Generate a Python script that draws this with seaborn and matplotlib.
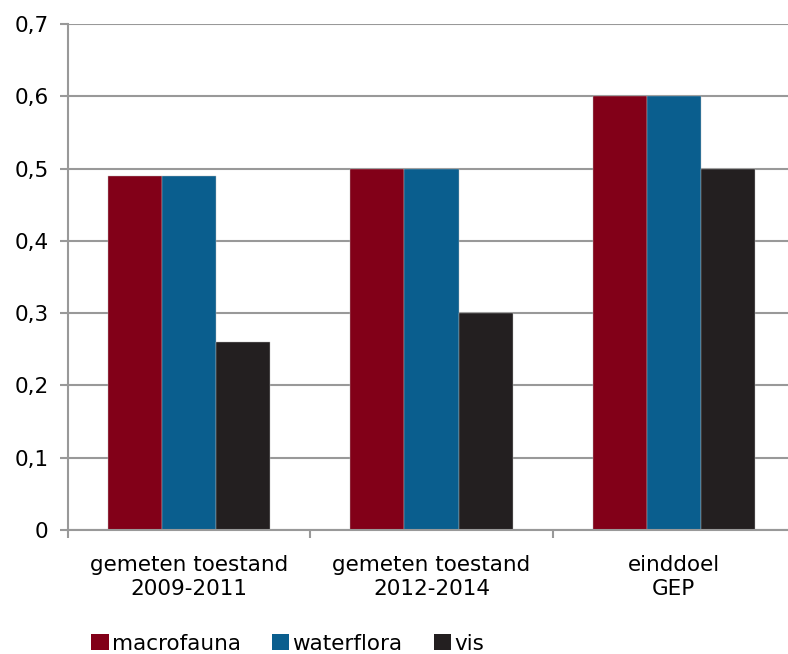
import matplotlib
matplotlib.use("Agg")
import matplotlib.pyplot as plt
import seaborn as sns
import pandas as pd
from matplotlib.ticker import FuncFormatter
from matplotlib.patches import Patch

categories = ["gemeten toestand\n2009-2011", "gemeten toestand\n2012-2014", "einddoel\nGEP"]
series = ["macrofauna", "waterflora", "vis"]
macrofauna = [0.49, 0.50, 0.60]
waterflora = [0.49, 0.50, 0.60]
vis = [0.26, 0.30, 0.50]
colors = ["#820018", "#0a5e8e", "#231f20"]

rows = []
for name, vals in zip(series, [macrofauna, waterflora, vis]):
    for c, v in zip(categories, vals):
        rows.append({"cat": c, "series": name, "value": v})
df = pd.DataFrame(rows)

sns.set_style("white")
plt.rcParams['font.family'] = ['DejaVu Sans']
plt.rcParams['text.color'] = 'black'
plt.rcParams['xtick.labelcolor'] = 'black'
plt.rcParams['ytick.labelcolor'] = 'black'
fs = 15.5

fig = plt.figure(figsize=(7.88, 6.54), dpi=100)
ax = fig.add_axes([68/788, 124/654, (795-68)/788, 506/654])

sns.barplot(data=df, x="cat", y="value", hue="series", order=categories,
            hue_order=series, palette=colors, width=0.67, ax=ax,
            saturation=1, edgecolor="#bbbbbb", linewidth=0.3, legend=False)

ax.set_ylim(0, 0.7)
ax.set_xlim(-0.5, 2.5)
ax.set_yticks([i / 10 for i in range(8)])
ax.yaxis.set_major_formatter(FuncFormatter(lambda v, p: "0" if abs(v) < 1e-9 else f"{v:.1f}".replace(".", ",")))
ax.yaxis.grid(True, color="#999999", linewidth=1.5)
ax.set_axisbelow(True)
ax.set_xlabel("")
ax.set_ylabel("")

for s in ["top", "right"]:
    ax.spines[s].set_visible(False)
for s in ["left", "bottom"]:
    ax.spines[s].set_color("#999999")
    ax.spines[s].set_linewidth(1.5)

ax.tick_params(axis="y", length=6, width=1.5, color="#999999", labelsize=fs, pad=8, left=True, labelcolor="black")
ax.set_xticks([0, 1, 2])
ax.set_xticklabels(categories, fontsize=fs, linespacing=1.25)
ax.tick_params(axis="x", which="major", length=0, pad=18, labelcolor="black")
ax.set_xticks([-0.5, 0.5, 1.5, 2.5], minor=True)
ax.tick_params(axis="x", which="minor", length=6, width=1.5, color="#999999", bottom=True)

handles = [Patch(facecolor=c, edgecolor="none") for c in colors]
fig.legend(handles, series, loc="lower left", bbox_to_anchor=(72/788, -19/654), ncol=3,
           frameon=False, fontsize=fs, handlelength=0.8, handleheight=0.8,
           handletextpad=0.15, columnspacing=1.45, labelcolor="black")

fig.savefig("out.png", dpi=100)
